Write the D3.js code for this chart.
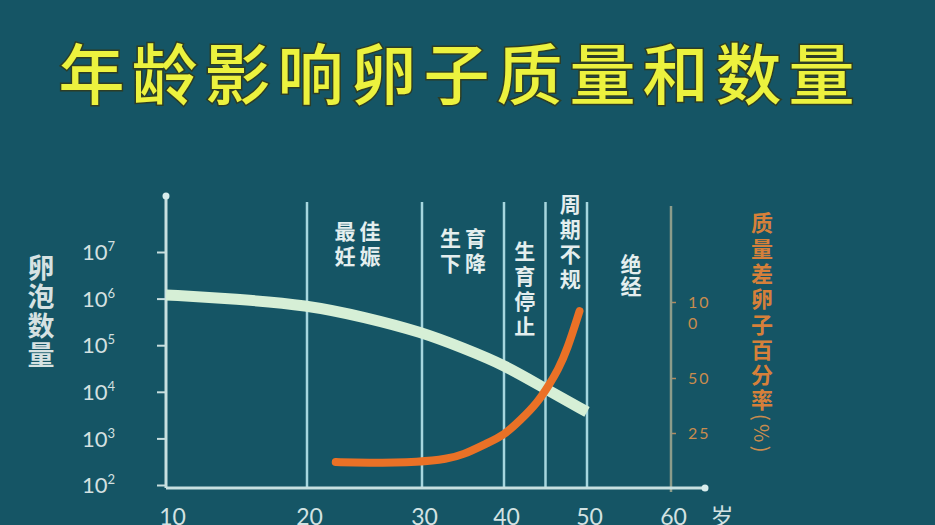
<!DOCTYPE html>
<html>
<head>
<meta charset="utf-8">
<script src="https://cdn.jsdelivr.net/npm/d3@7"></script>
<style>
  html, body { margin: 0; padding: 0; background: #155565; }
  svg { display: block; }
</style>
</head>
<body>
<svg id="chart" width="935" height="525"></svg>
<script>
// Data
const title = '年龄影响卵子质量和数量';
const follicleAges = [10, 15, 20, 25, 30, 35, 40, 45, 50];
const follicleCounts = [1.2e6, 9.8e5, 7.3e5, 4.0e5, 1.9e5, 8.7e4, 3.8e4, 1.15e4, 3.7e3];
const poorAges = [22.5, 25, 30, 33, 35, 38, 40, 42, 44, 45.5, 46.5, 47.6, 49.1];
const poorPercent = [11.8, 11.4, 11.8, 13.2, 15, 20.5, 24, 31, 38.6, 47.3, 55.3, 68.4, 94];
const xTicks = [10, 20, 30, 40, 50, 60];
const yTicks = [1e2, 1e3, 1e4, 1e5, 1e6, 1e7];
const rightTicks = [100, 50, 25];
const stageBounds = [20, 30, 40, 45, 50];
const stageStarts = [20, 30, 40, 45, 50];
const stageEnds = [30, 40, 45, 50, 60];
const stageNames = ['最佳妊娠', '生育下降', '生育停止', '周期不规', '绝经'];
const leftLabel = '卵泡数量';
const rightLabel = '质量差卵子百分率';
const rightUnit = '(%)';
const unitX = '岁';

const svg = d3.select('#chart');
const cjk = '"Noto Sans CJK SC", "Noto Sans", sans-serif';
const num = 'Lato, "Open Sans", sans-serif';
const lineCol = '#a6d6de';

// the age axis is not linear in the original drawing
const x = d3.scaleLinear()
  .domain(xTicks)
  .range([166, 307, 422, 504, 587, 671]);

const y = d3.scaleLog()
  .domain([1e2, 1e7])
  .range([485, 252]);

const yRight = d3.scaleLinear()
  .domain([0, 25, 50, 100])
  .range([488, 433, 378, 302]);

const baseY = 488;

// vertical text, top edge at `top`, one column centred on cx
function columnText(cx, top, size, gap, str) {
  return svg.append('text')
    .attr('x', cx)
    .attr('y', top)
    .attr('writing-mode', 'vertical-rl')
    .attr('text-anchor', 'start')
    .attr('font-size', size)
    .attr('letter-spacing', gap)
    .text(str);
}

// title
svg.append('text')
  .attr('x', 460)
  .attr('y', 70)
  .attr('text-anchor', 'middle')
  .attr('dominant-baseline', 'central')
  .attr('font-family', cjk)
  .attr('font-weight', 500)
  .attr('font-size', 66)
  .attr('letter-spacing', 7)
  .attr('fill', '#ecf23e')
  .attr('stroke', '#2d3d25')
  .attr('stroke-width', 3)
  .attr('paint-order', 'stroke')
  .text(title);

// stage boundaries
svg.selectAll('.stage-line')
  .data(stageBounds)
  .enter()
  .append('line')
  .attr('class', 'stage-line')
  .attr('x1', d => x(d))
  .attr('x2', d => x(d))
  .attr('y1', 202)
  .attr('y2', baseY)
  .attr('stroke', lineCol)
  .attr('stroke-width', 2.5);

// stage names: first two as two short rows, rest as columns
const stageLayout = [
  { mode: 'grid', top: 230, shift: -7 },
  { mode: 'grid', top: 237, shift: 0 },
  { mode: 'col', top: 241, gap: 4, shift: 0 },
  { mode: 'col', top: 194, gap: 4, shift: 4 },
  { mode: 'col', top: 254, gap: 1, shift: 2 }
];
stageNames.forEach((name, i) => {
  const cx = (x(stageStarts[i]) + x(stageEnds[i])) / 2 + stageLayout[i].shift;
  const lay = stageLayout[i];
  let t;
  if (lay.mode === 'grid') {
    t = svg.append('text')
      .attr('text-anchor', 'middle')
      .attr('dominant-baseline', 'central')
      .attr('font-size', 21)
      .attr('letter-spacing', 4);
    [name.slice(0, 2), name.slice(2)].forEach((row, r) => {
      t.append('tspan')
        .attr('x', cx + 2)
        .attr('y', lay.top + r * 25)
        .text(row);
    });
  } else {
    t = columnText(cx, lay.top, 21, lay.gap, name);
  }
  t.attr('font-family', cjk)
    .attr('font-weight', 'bold')
    .attr('fill', '#e4eeee');
});

// left axis
const yAxis = svg.append('g')
  .attr('transform', `translate(${x(10)},0)`)
  .call(d3.axisLeft(y).tickValues(yTicks).tickSize(9).tickPadding(42).tickFormat(''));
yAxis.select('.domain').remove();
yAxis.selectAll('.tick line').attr('stroke', '#c8dede').attr('stroke-width', 2);
yAxis.selectAll('.tick text').each(function(d) {
  const t = d3.select(this)
    .attr('font-family', num)
    .attr('font-size', 22)
    .attr('fill', '#d4e0e0')
    .attr('dy', '0.35em');
  t.append('tspan').text('10');
  t.append('tspan')
    .attr('font-size', 13)
    .attr('dy', '-0.7em')
    .text(Math.round(Math.log10(d)));
});
svg.append('line')
  .attr('x1', x(10)).attr('x2', x(10))
  .attr('y1', 196).attr('y2', baseY)
  .attr('stroke', '#c8e0e0')
  .attr('stroke-width', 3);
svg.append('circle')
  .attr('cx', x(10)).attr('cy', 196).attr('r', 3.5)
  .attr('fill', '#d8ecec');

// left axis title
columnText(41, 254, 27, 2, leftLabel)
  .attr('font-family', cjk)
  .attr('font-weight', 'bold')
  .attr('fill', '#d6e2e2');

// right axis
const rAxis = svg.append('g')
  .attr('transform', `translate(${x(60)},0)`)
  .call(d3.axisRight(yRight).tickValues(rightTicks).tickSizeInner(5).tickSizeOuter(0).tickPadding(12).tickFormat(''));
rAxis.select('.domain').remove();
rAxis.selectAll('.tick line').attr('stroke', '#b08a60').attr('stroke-width', 1.5);
rAxis.selectAll('.tick text').each(function(d) {
  const t = d3.select(this)
    .attr('font-family', num)
    .attr('font-size', 16)
    .attr('fill', '#c98c4e')
    .attr('letter-spacing', 2)
    .attr('dy', '0.35em');
  const s = String(d);
  if (s.length > 2) {
    t.append('tspan').text(s.slice(0, 2));
    t.append('tspan').attr('x', 17).attr('dy', '1.3em').text(s.slice(2));
  } else {
    t.text(s);
  }
});
svg.append('line')
  .attr('x1', x(60)).attr('x2', x(60))
  .attr('y1', 206).attr('y2', 492)
  .attr('stroke', '#8c9c8a')
  .attr('stroke-width', 2.5);

// right axis title
const rt = columnText(762, 212, 22, 3.3, rightLabel)
  .attr('font-family', cjk)
  .attr('font-weight', 'bold')
  .attr('fill', '#d6803a');
rt.append('tspan')
  .attr('font-weight', 'normal')
  .attr('font-size', 20)
  .attr('fill', '#c98c4e')
  .text(rightUnit);

// bottom axis
const xAxis = svg.append('g')
  .attr('transform', `translate(0,${baseY})`)
  .call(d3.axisBottom(x).tickValues(xTicks).tickSize(0).tickPadding(21));
xAxis.select('.domain').remove();
xAxis.selectAll('.tick text')
  .attr('font-family', num)
  .attr('font-size', 23)
  .attr('fill', '#d2e2e2')
  .attr('dx', d => d === 10 ? 6 : 2);
svg.append('line')
  .attr('x1', x(10)).attr('x2', x(60) + 34)
  .attr('y1', baseY).attr('y2', baseY)
  .attr('stroke', '#c8e0e0')
  .attr('stroke-width', 3);
svg.append('circle')
  .attr('cx', x(60) + 34).attr('cy', baseY).attr('r', 3.5)
  .attr('fill', '#d8ecec');
svg.append('text')
  .attr('x', 722)
  .attr('y', baseY + 21)
  .attr('dy', '0.71em')
  .attr('text-anchor', 'middle')
  .attr('font-family', cjk)
  .attr('font-size', 23)
  .attr('fill', '#d2e2e2')
  .text(unitX);

// curves
const follicle = follicleAges.map((a, i) => ({ age: a, v: follicleCounts[i] }));
const poor = poorAges.map((a, i) => ({ age: a, v: poorPercent[i] }));

svg.append('path')
  .datum(follicle)
  .attr('fill', 'none')
  .attr('stroke', '#d6efd6')
  .attr('stroke-width', 11)
  .attr('d', d3.line().x(d => x(d.age)).y(d => y(d.v)).curve(d3.curveBasis));

svg.append('path')
  .datum(poor)
  .attr('fill', 'none')
  .attr('stroke', '#ea7126')
  .attr('stroke-width', 8)
  .attr('stroke-linecap', 'round')
  .attr('d', d3.line().x(d => x(d.age)).y(d => yRight(d.v)).curve(d3.curveBasis));
</script>
</body>
</html>
